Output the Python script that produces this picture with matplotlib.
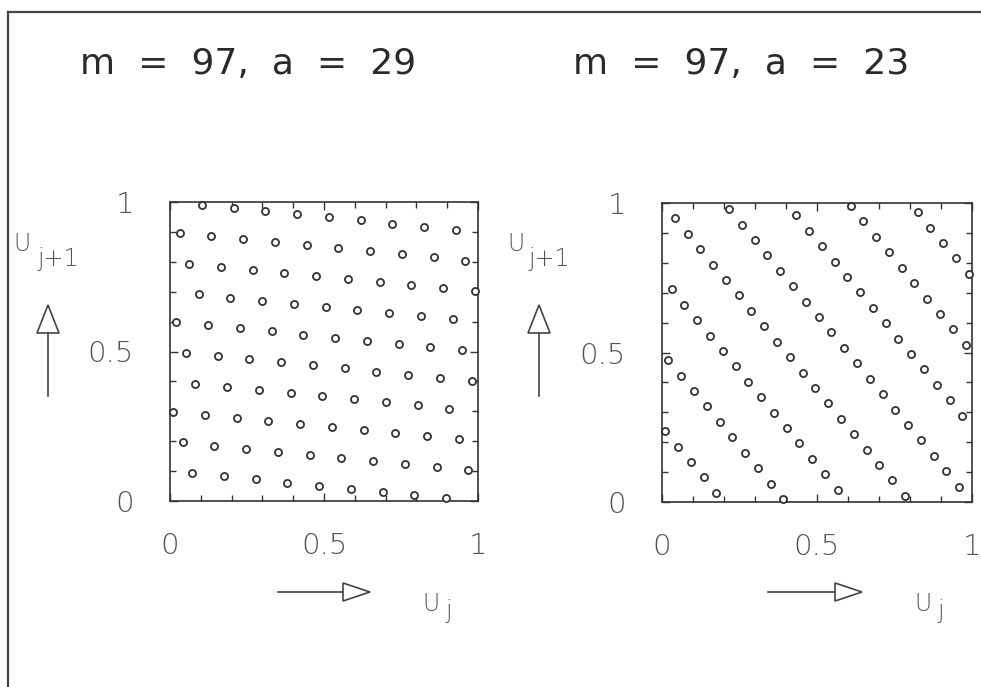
import numpy as np
import matplotlib.pyplot as plt
from matplotlib.patches import Polygon

# linear congruential generator x_{j+1} = a * x_j mod m, all seeds 1..96
m = 97
seeds = np.arange(1, m)

next_a29 = [29, 58, 87, 19, 48, 77, 9, 38, 67, 96, 28, 57, 86, 18, 47, 76,
            8, 37, 66, 95, 27, 56, 85, 17, 46, 75, 7, 36, 65, 94, 26, 55,
            84, 16, 45, 74, 6, 35, 64, 93, 25, 54, 83, 15, 44, 73, 5, 34,
            63, 92, 24, 53, 82, 14, 43, 72, 4, 33, 62, 91, 23, 52, 81, 13,
            42, 71, 3, 32, 61, 90, 22, 51, 80, 12, 41, 70, 2, 31, 60, 89,
            21, 50, 79, 11, 40, 69, 1, 30, 59, 88, 20, 49, 78, 10, 39, 68]

next_a23 = [23, 46, 69, 92, 18, 41, 64, 87, 13, 36, 59, 82, 8, 31, 54, 77,
            3, 26, 49, 72, 95, 21, 44, 67, 90, 16, 39, 62, 85, 11, 34, 57,
            80, 6, 29, 52, 75, 1, 24, 47, 70, 93, 19, 42, 65, 88, 14, 37,
            60, 83, 9, 32, 55, 78, 4, 27, 50, 73, 96, 22, 45, 68, 91, 17,
            40, 63, 86, 12, 35, 58, 81, 7, 30, 53, 76, 2, 25, 48, 71, 94,
            20, 43, 66, 89, 15, 38, 61, 84, 10, 33, 56, 79, 5, 28, 51, 74]

titles = ['m  =  97,  a  =  29', 'm  =  97,  a  =  23']
tick_pos = [0, 0.5, 1]
tick_labels = ['0', '0.5', '1']

W, H = 981, 687
ink = '#333333'
grey = '#555555'

fig = plt.figure(figsize=(W / 100, H / 100), dpi=100)

# full-figure overlay in pixel units for the frame, arrows and axis names
over = fig.add_axes([0, 0, 1, 1], zorder=0)
over.set_xlim(0, W)
over.set_ylim(H, 0)
over.axis('off')


def px_axes(x0, y0, x1, y1):
    return fig.add_axes([x0 / W, 1 - y1 / H, (x1 - x0) / W, (y1 - y0) / H], zorder=2)


def arrow(x0, y0, x1, y1, head=27, half=10):
    # shaft plus an open triangular head pointing towards (x1, y1)
    d = np.array([x1 - x0, y1 - y0], float)
    d /= np.hypot(*d)
    n = np.array([-d[1], d[0]])
    base = np.array([x1, y1]) - head * d
    over.plot([x0, base[0]], [y0, base[1]], color='#444444', lw=1.2)
    tri = [base + half * n, [x1, y1], base - half * n]
    over.add_patch(Polygon(tri, closed=True, fill=False, ec='#444444', lw=1.2))


# page frame
over.plot([8, W], [12, 12], color='#444444', lw=1.6)
over.plot([8, 8], [12, H], color='#444444', lw=1.6)

panels = [
    dict(box=(170, 202, 478, 501), nxt=next_a29, title=titles[0], tx=248,
         ux=13, jx=37, harrow=(278, 370), vx=48, uj=(422, 445)),
    dict(box=(662, 203, 972, 502), nxt=next_a23, title=titles[1], tx=741,
         ux=507, jx=528, harrow=(768, 862), vx=539, uj=(914, 937)),
]

for p in panels:
    ax = px_axes(*p['box'])
    ax.scatter(seeds / m, np.array(p['nxt']) / m, s=26, marker='o',
               facecolor='white', edgecolor=ink, linewidths=1.3,
               clip_on=False, zorder=3)
    ax.set_xlim(0, 1)
    ax.set_ylim(0, 1)
    ax.set_xticks(tick_pos, tick_labels)
    ax.set_yticks(tick_pos, tick_labels)
    ax.set_xticks(np.arange(1, 10) / 10, minor=True)
    ax.set_yticks(np.arange(1, 10) / 10, minor=True)
    ax.tick_params(which='both', direction='in', top=True, right=True,
                   color=ink, width=1.0)
    ax.tick_params(which='major', length=6)
    ax.tick_params(which='minor', length=4)
    ax.tick_params(axis='x', pad=22)
    ax.tick_params(axis='y', pad=26)
    for lab in ax.get_xticklabels() + ax.get_yticklabels():
        lab.set_fontsize(21)
        lab.set_color(grey)
        lab.set_fontweight('light')
    for sp in ax.spines.values():
        sp.set_color(ink)
        sp.set_linewidth(1.2)

    over.text(p['tx'], 64, p['title'], ha='center', va='center', fontsize=26,
              color='#2a2a2a')

    # vertical axis name and arrow
    over.text(p['ux'], 244, 'U', ha='left', va='center', fontsize=17,
              color=grey, fontweight='light')
    over.text(p['jx'], 259, 'j+1', ha='left', va='center', fontsize=17,
              color=grey, fontweight='light')
    arrow(p['vx'], 396, p['vx'], 305, head=28, half=11)

    # horizontal axis name and arrow
    arrow(p['harrow'][0], 592, p['harrow'][1], 592, head=27, half=9)
    over.text(p['uj'][0], 604, 'U', ha='left', va='center', fontsize=17,
              color=grey, fontweight='light')
    over.text(p['uj'][1], 611, 'j', ha='left', va='center', fontsize=17,
              color=grey, fontweight='light')

fig.savefig('out.png', dpi=100)
